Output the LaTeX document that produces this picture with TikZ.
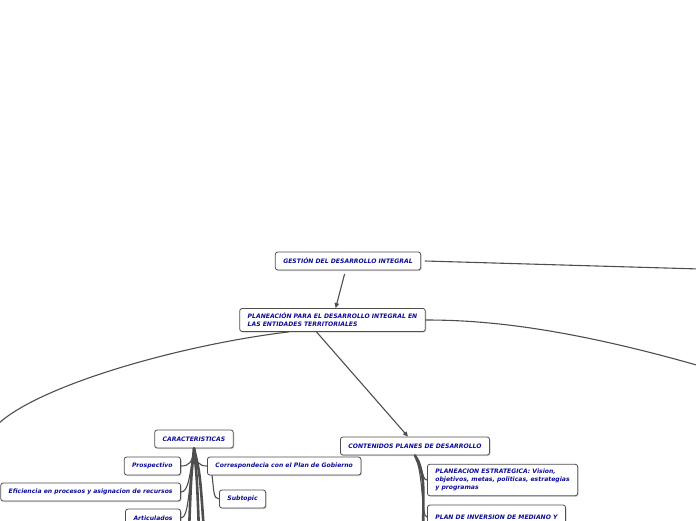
\documentclass[tikz,border=0pt]{standalone}
\usepackage{fontspec}
\setmainfont{DejaVu Sans}
\usetikzlibrary{arrows.meta,shadows}

\definecolor{topicblue}{RGB}{12,12,150}
\definecolor{topicgray}{RGB}{78,78,78}

\begin{document}
\begin{tikzpicture}[x=1pt, y=-1pt, line cap=round,
	topic/.style={draw=topicgray, line width=0.8pt, fill=white, rounded corners=2.5pt,
		inner xsep=8pt, inner ysep=4.5pt, minimum height=18pt, align=left, text=topicblue,
		font=\fontsize{6.1}{8.3}\selectfont\bfseries\itshape,
		drop shadow={shadow xshift=1pt, shadow yshift=-1pt, fill=black!35}},
	link/.style={draw=topicgray, line width=1.1pt},
	arrowlink/.style={link, -{Triangle[length=5pt,width=4.5pt]}},
	bundle/.style={draw=topicgray, line width=2.6pt}]
	
	% Frame of the screenshot, the map runs on past its edges.
	\useasboundingbox (0,0) rectangle (696,520);
	\clip (0,0) rectangle (696,520);
	
	\node [topic] (gestion) at (348,261) {GESTIÓN DEL DESARROLLO INTEGRAL};
	\node [topic] (planeacion) at (332.5,320) {PLANEACIÓN PARA EL DESARROLLO INTEGRAL EN\\LAS ENTIDADES TERRITORIALES};
	\node [topic] (caract) at (194,439) {CARACTERISTICAS};
	\node [topic] (contenidos) at (415,446) {CONTENIDOS PLANES DE DESARROLLO};
	
	\begin{scope}[every node/.append style={topic}]
		\node [anchor=east] (prospectivo) at (181,466) {Prospectivo};
		\node [anchor=east] (eficiencia) at (181,492) {Eficiencia en procesos y asignacion de recursos};
		\node [anchor=east] (articulados) at (181,518) {Articulados};
		\node [anchor=west] (correspondecia) at (207,466) {Correspondecia con el Plan de Gobierno};
		\node [anchor=west] (subtopic) at (219,499) {Subtopic};
		\node [anchor=west] (estrategica) at (427,480) {PLANEACION ESTRATEGICA: Vision,\\objetivos, metas, politicas, estrategias\\y programas};
		\node [anchor=west, minimum height=24pt] (inversion) at (427,517) {PLAN DE INVERSION DE MEDIANO Y};
	\end{scope}
	
	% Free ends beyond the frame
	\coordinate (gestionfar) at (700,269);
	\coordinate (planeacionfar) at (700,366);
	\coordinate (planeacionleft) at (-2,424);
	\coordinate (caractdowna) at (189,532);
	\coordinate (caractdownb) at (199,532);
	\coordinate (caractdownc) at (204,532);
	\coordinate (contenidosdown) at (423,532);
	
	\draw [link] ([xshift=4pt]gestion.east) -- (gestionfar);
	\draw [arrowlink, shorten <=4pt] (gestion) -- (planeacion);
	\draw [link] (planeacion.east) .. controls (480,320) and (560,326) .. (planeacionfar);
	\draw [link] ([xshift=-44pt]planeacion.south) .. controls (180,345) and (40,385) .. (planeacionleft);
	\draw [arrowlink] ([xshift=-16pt]planeacion.south) -- ([xshift=-7pt]contenidos.north);
	
	\draw [link] (caract.south) .. controls +(-1,14) and +(8,0) .. (prospectivo.east);
	\draw [link] (caract.south) .. controls +(-4,24) and +(8,0) .. (eficiencia.east);
	\draw [link] (caract.south) .. controls +(-5,36) and +(8,0) .. (articulados.east);
	\draw [link] (caract.south) .. controls +(1,14) and +(-8,0) .. (correspondecia.west);
	\draw [link] ([xshift=5pt]correspondecia.south west) .. controls +(2,14) and +(-6,0) .. (subtopic.west);
	\draw [bundle] (caract.south) .. controls +(-3,30) .. (caractdowna);
	\draw [bundle] (caract.south) .. controls +(3,30) .. (caractdownb);
	\draw [bundle] (caract.south) .. controls +(6,25) .. (caractdownc);
	
	\draw [link] (contenidos.south) .. controls +(8,6) and +(-6,0) .. (estrategica.west);
	\draw [link] (contenidos.south) .. controls +(9,20) and +(-6,0) .. (inversion.west);
	\draw [bundle] (contenidos.south) .. controls +(9,20) .. (contenidosdown);
	
\end{tikzpicture}
\end{document}
